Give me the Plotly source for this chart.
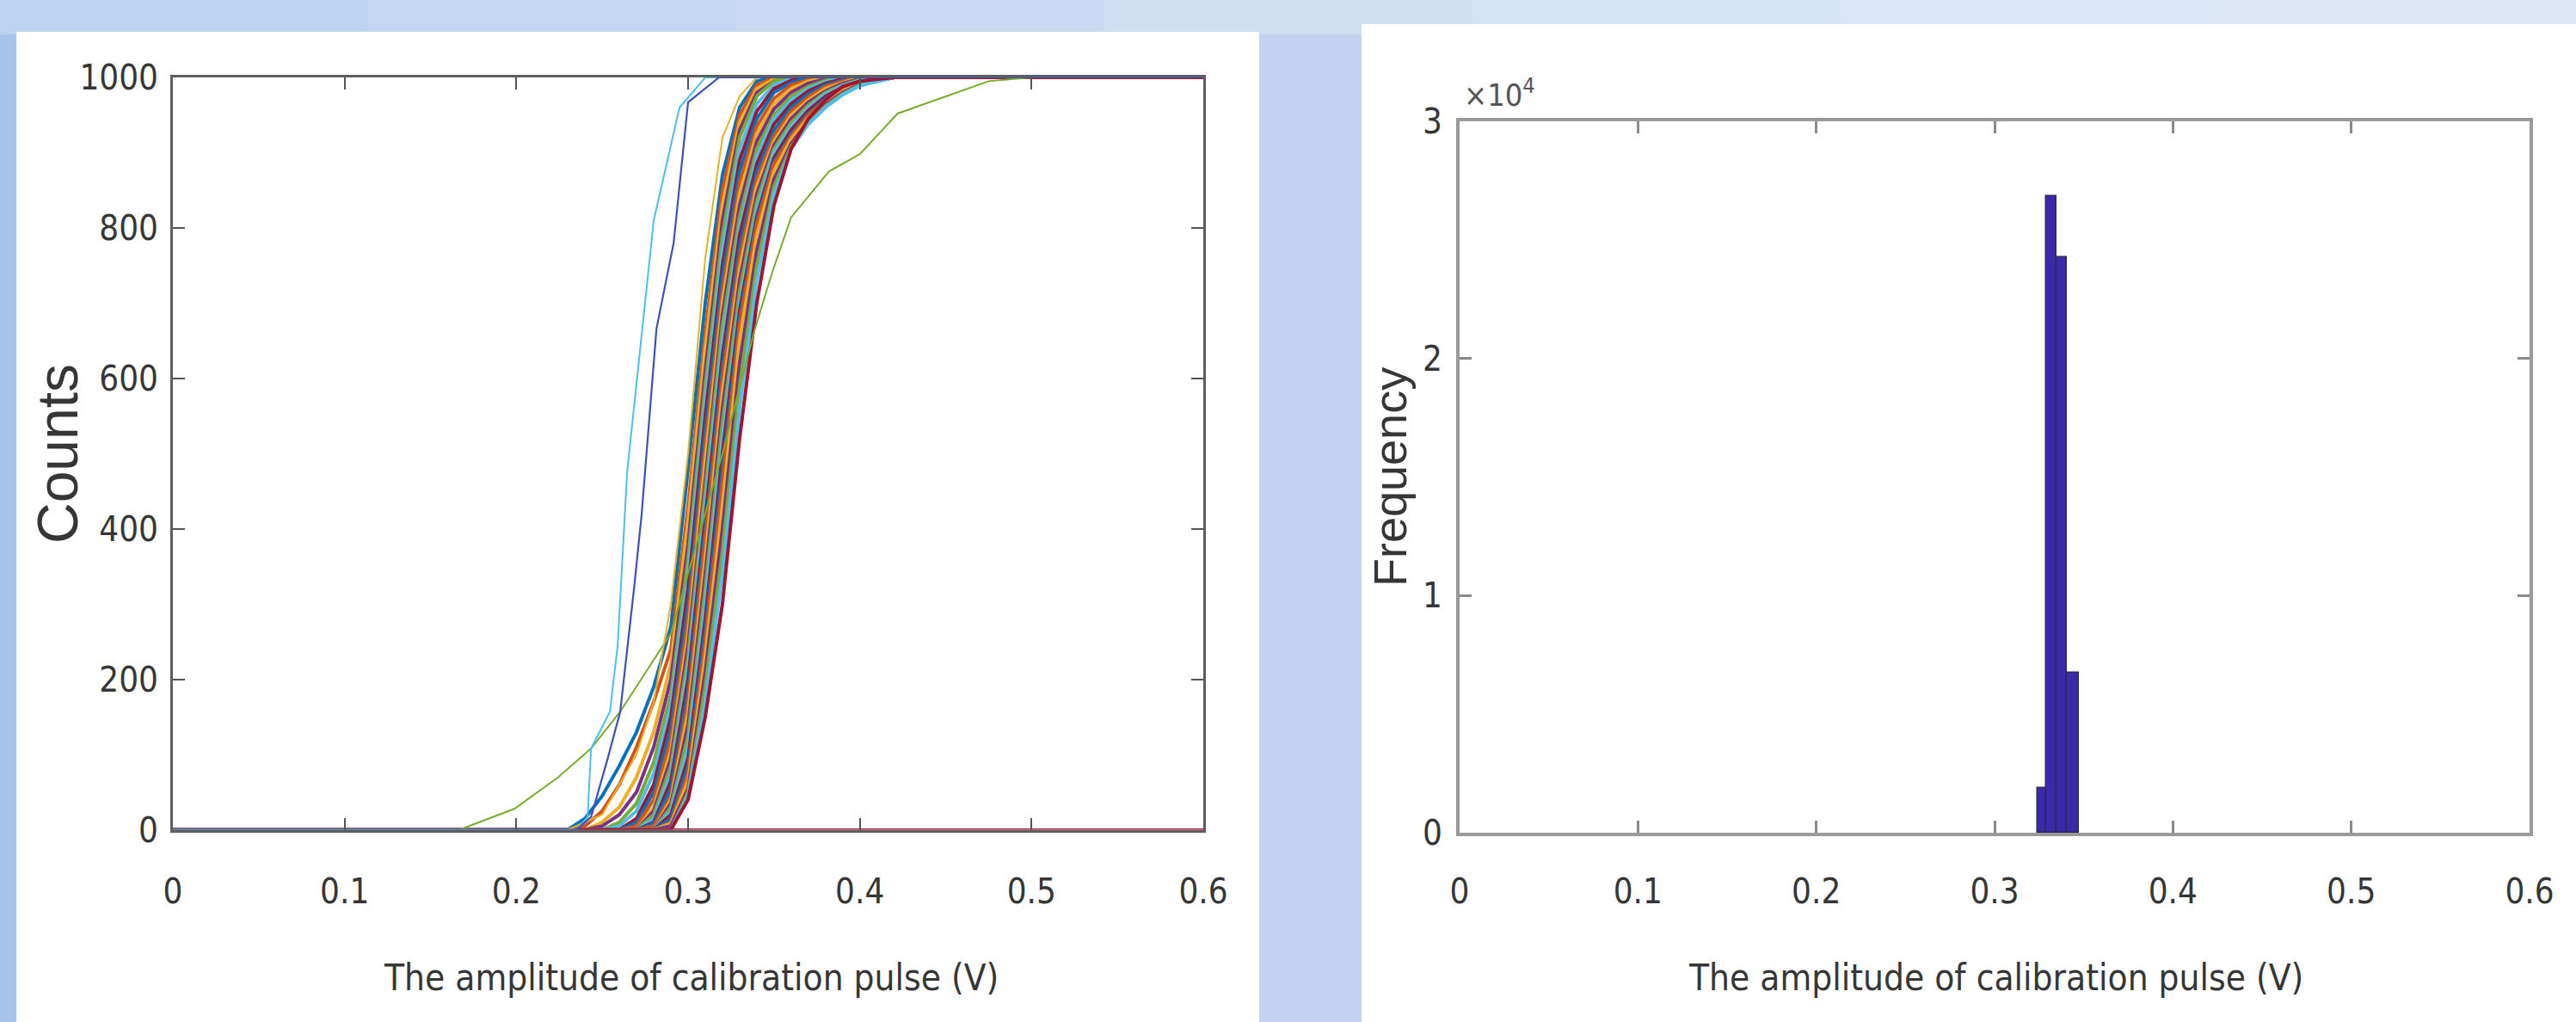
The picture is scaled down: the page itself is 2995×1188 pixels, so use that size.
import plotly.graph_objects as go

# ---------------- data: left panel (S-curves) ----------------
XG = [0, 0.23, 0.24, 0.25, 0.26, 0.27, 0.28, 0.29, 0.30, 0.31, 0.32, 0.33,
      0.34, 0.35, 0.36, 0.37, 0.38, 0.39, 0.40, 0.42, 0.6]

BUNDLE = [
    [0, 0, 15, 45, 85, 130, 190, 270, 480, 700, 870, 960, 995, 1000, 1000, 1000, 1000, 1000, 1000, 1000, 1000],
    [0, 0, 5, 25, 60, 110, 170, 240, 430, 660, 850, 950, 990, 1000, 1000, 1000, 1000, 1000, 1000, 1000, 1000],
    [0, 0, 0, 10, 30, 70, 130, 220, 410, 640, 830, 940, 985, 998, 1000, 1000, 1000, 1000, 1000, 1000, 1000],
    [0, 0, 0, 5, 20, 50, 110, 200, 380, 610, 810, 930, 980, 995, 1000, 1000, 1000, 1000, 1000, 1000, 1000],
    [0, 0, 0, 0, 10, 35, 90, 180, 360, 590, 790, 920, 975, 995, 1000, 1000, 1000, 1000, 1000, 1000, 1000],
    [0, 0, 0, 0, 5, 25, 75, 165, 340, 570, 770, 905, 965, 990, 998, 1000, 1000, 1000, 1000, 1000, 1000],
    [0, 0, 0, 0, 0, 15, 60, 150, 320, 550, 750, 890, 955, 985, 996, 1000, 1000, 1000, 1000, 1000, 1000],
    [0, 0, 0, 0, 0, 10, 50, 135, 300, 530, 735, 875, 945, 980, 993, 1000, 1000, 1000, 1000, 1000, 1000],
    [0, 0, 0, 0, 0, 5, 40, 120, 280, 510, 715, 860, 935, 972, 990, 997, 1000, 1000, 1000, 1000, 1000],
    [0, 0, 0, 0, 0, 0, 30, 105, 260, 490, 700, 845, 925, 965, 985, 995, 1000, 1000, 1000, 1000, 1000],
    [0, 0, 0, 0, 0, 0, 25, 95, 245, 470, 685, 830, 915, 958, 980, 992, 998, 1000, 1000, 1000, 1000],
    [0, 0, 0, 0, 0, 0, 20, 85, 230, 450, 670, 815, 905, 950, 975, 988, 996, 1000, 1000, 1000, 1000],
    [0, 0, 0, 0, 0, 0, 15, 75, 215, 430, 650, 800, 895, 945, 970, 985, 994, 1000, 1000, 1000, 1000],
    [0, 0, 0, 0, 0, 0, 10, 65, 200, 410, 630, 790, 885, 938, 965, 982, 992, 998, 1000, 1000, 1000],
    [0, 0, 0, 0, 0, 0, 8, 55, 185, 395, 615, 775, 875, 930, 960, 978, 990, 996, 1000, 1000, 1000],
    [0, 0, 0, 0, 0, 0, 5, 45, 170, 380, 600, 760, 865, 922, 955, 974, 988, 995, 1000, 1000, 1000],
    [0, 0, 0, 0, 0, 0, 0, 40, 155, 360, 580, 745, 855, 915, 950, 970, 985, 993, 1000, 1000, 1000],
    [0, 0, 0, 0, 0, 0, 0, 35, 140, 340, 560, 730, 845, 910, 945, 967, 982, 992, 998, 1000, 1000],
    [0, 0, 0, 0, 0, 0, 0, 30, 125, 320, 540, 715, 835, 905, 940, 963, 980, 990, 997, 1000, 1000],
    [0, 0, 0, 0, 0, 0, 0, 25, 110, 300, 520, 700, 825, 900, 935, 960, 978, 989, 996, 1000, 1000],
    [0, 0, 0, 0, 0, 0, 0, 20, 95, 280, 500, 690, 815, 893, 930, 956, 975, 987, 995, 1000, 1000],
    [0, 0, 0, 0, 0, 0, 0, 15, 85, 265, 480, 680, 810, 888, 925, 952, 972, 985, 994, 1000, 1000],
    [0, 0, 0, 0, 0, 0, 0, 10, 75, 250, 460, 670, 805, 885, 922, 950, 970, 984, 993, 1000, 1000],
    [0, 0, 0, 0, 0, 0, 0, 8, 65, 230, 430, 650, 790, 875, 918, 946, 967, 982, 992, 1000, 1000],
    [0, 0, 0, 0, 0, 0, 0, 5, 55, 210, 400, 620, 770, 865, 912, 942, 964, 980, 991, 1000, 1000],
    [0, 0, 0, 0, 0, 0, 0, 0, 50, 190, 370, 590, 750, 855, 908, 940, 962, 978, 990, 1000, 1000],
    [0, 0, 0, 0, 0, 0, 0, 0, 45, 170, 340, 560, 730, 845, 905, 938, 960, 977, 989, 1000, 1000],
    [0, 0, 0, 0, 0, 0, 0, 0, 40, 150, 300, 520, 700, 830, 905, 945, 970, 988, 995, 1000, 1000],
]

LIGHTBLUE_X = [0, 0.235, 0.2415, 0.2435, 0.2545, 0.259, 0.2645, 0.28, 0.295, 0.31, 0.6]
LIGHTBLUE_Y = [0, 0, 17, 108, 157, 245, 475, 810, 960, 1000, 1000]

DARKBLUE_X = [0, 0.235, 0.2435, 0.253, 0.2605, 0.2686, 0.273, 0.2816, 0.2916, 0.300, 0.318, 0.6]
DARKBLUE_Y = [0, 0, 17, 93, 157, 322, 420, 666, 780, 967, 1000, 1000]

YELLOW_X = [0, 0.23, 0.25, 0.26, 0.27, 0.28, 0.29, 0.30, 0.31, 0.32, 0.33, 0.34, 0.6]
YELLOW_Y = [0, 0, 20, 60, 100, 170, 300, 500, 760, 920, 975, 1000, 1000]

OLIVE_X = [0, 0.167, 0.199, 0.2245, 0.2435, 0.2605, 0.29, 0.31, 0.32, 0.339,
           0.349, 0.36, 0.382, 0.40, 0.422, 0.475, 0.5, 0.6]
OLIVE_Y = [0, 0, 28, 70, 108, 157, 261, 420, 500, 666, 741, 814, 875, 898, 952, 995, 1000, 1000]

DEAD_X = [0, 0.6]
DEAD_Y = [0, 0]

# ---------------- data: right panel (histogram) ----------------
BIN_EDGES = [0.324, 0.329, 0.3345, 0.3406, 0.3474]
COUNTS = [1870, 26840, 24280, 6760]
STRIP_X = [0.059, 0.347]
STRIP_Y = [-230, -230]

LEFT_XTICKS = [0, 0.1, 0.2, 0.3, 0.4, 0.5, 0.6]
LEFT_XTICKTEXT = ["0", "0.1", "0.2", "0.3", "0.4", "0.5", "0.6"]
LEFT_YTICKS = [0, 200, 400, 600, 800, 1000]
LEFT_YTICKTEXT = ["0", "200", "400", "600", "800", "1000"]
RIGHT_YTICKS = [0, 10000, 20000, 30000]
RIGHT_YTICKTEXT = ["0", "1", "2", "3"]

MATLAB = ["#0072BD", "#D95319", "#EDB120", "#7E2F8E", "#77AC30", "#4DBEEE", "#A2142F"]

W, H = 2995, 1188
NARROW = "Liberation Sans Narrow, Arial Narrow, DejaVu Sans Condensed, sans-serif"
REG = "Liberation Sans, Arial, DejaVu Sans, sans-serif"
TXT = "#363636"

def px(x):
    return x / W

def py(y):
    return 1 - y / H

fig = go.Figure()

fig.add_trace(go.Scatter(x=DEAD_X, y=DEAD_Y, mode="lines",
                         line=dict(color="#A2142F", width=3),
                         xaxis="x", yaxis="y", showlegend=False))
for i, ys in enumerate(BUNDLE):
    fig.add_trace(go.Scatter(x=XG, y=ys, mode="lines",
                             line=dict(color=MATLAB[i % 7], width=4),
                             xaxis="x", yaxis="y", showlegend=False))
for xs, ys, col, w in [
    (OLIVE_X, OLIVE_Y, "#77AC30", 2),
    (YELLOW_X, YELLOW_Y, "#EDB120", 2),
    (LIGHTBLUE_X, LIGHTBLUE_Y, "#4DBEEE", 2),
    (DARKBLUE_X, DARKBLUE_Y, "#3d52b5", 2.2),
]:
    fig.add_trace(go.Scatter(x=xs, y=ys, mode="lines", line=dict(color=col, width=w),
                             xaxis="x", yaxis="y", showlegend=False))

centers = [(a + b) / 2 for a, b in zip(BIN_EDGES[:-1], BIN_EDGES[1:])]
widths = [b - a for a, b in zip(BIN_EDGES[:-1], BIN_EDGES[1:])]
fig.add_trace(go.Bar(x=centers, y=COUNTS, width=widths,
                     marker=dict(color="#3b29a8", line=dict(color="#2b2b55", width=1.5)),
                     xaxis="x2", yaxis="y2", showlegend=False))
fig.add_trace(go.Scatter(x=STRIP_X, y=STRIP_Y, mode="lines", cliponaxis=False,
                         line=dict(color="#cfcfcf", width=6),
                         xaxis="x2", yaxis="y2", showlegend=False))

# background shapes
shapes = [
    dict(type="rect", xref="paper", yref="paper", x0=0, x1=px(19), y0=0, y1=1,
         fillcolor="#a7c4ea", line_width=0, layer="below"),
    dict(type="rect", xref="paper", yref="paper", x0=px(1464), x1=px(1583), y0=0, y1=py(40),
         fillcolor="#c3d2ee", line_width=0, layer="below"),
]
top_cols = ["#bcd3ef", "#c3d7f1", "#c9dbf2", "#cfdff3", "#d5e3f4", "#dae6f5", "#dfe9f6"]
for k, c in enumerate(top_cols):
    shapes.append(dict(type="rect", xref="paper", yref="paper",
                       x0=k / len(top_cols), x1=(k + 1) / len(top_cols), y0=py(40), y1=1,
                       fillcolor=c, line_width=0, layer="below"))
shapes += [
    dict(type="rect", xref="paper", yref="paper", x0=px(19), x1=px(1464), y0=0, y1=py(37),
         fillcolor="white", line_width=0, layer="below"),
    dict(type="rect", xref="paper", yref="paper", x0=px(1583), x1=1, y0=0, y1=py(28),
         fillcolor="white", line_width=0, layer="below"),
]

tickfont = dict(family=NARROW, size=40, color=TXT)

left_common = dict(showline=True, linecolor="#5e5e5e", linewidth=3, mirror="allticks",
                   ticks="inside", ticklen=14, tickwidth=2, tickcolor="#555",
                   showgrid=False, zeroline=False, tickfont=tickfont, automargin=False)
right_common = dict(showline=True, linecolor="#9a9a9a", linewidth=4, mirror="allticks",
                    ticks="inside", ticklen=14, tickwidth=3, tickcolor="#8a8a8a",
                    showgrid=False, zeroline=False, tickfont=tickfont, automargin=False)

fig.update_layout(
    width=W, height=H, autosize=False,
    margin=dict(l=0, r=0, t=0, b=0, pad=0),
    paper_bgcolor="#c8d9f1", plot_bgcolor="white",
    bargap=0,
    shapes=shapes,
    xaxis=dict(domain=[px(201), px(1399)], range=[0, 0.6], anchor="y",
               tickvals=LEFT_XTICKS, ticktext=LEFT_XTICKTEXT, ticklabelstandoff=34, **left_common),
    yaxis=dict(domain=[py(964.5), py(90)], range=[0, 1000], anchor="x",
               tickvals=LEFT_YTICKS, ticktext=LEFT_YTICKTEXT, ticklabelstandoff=6, **left_common),
    xaxis2=dict(domain=[px(1697), px(2941)], range=[0, 0.6], anchor="y2",
                tickvals=LEFT_XTICKS, ticktext=LEFT_XTICKTEXT, ticklabelstandoff=30, **right_common),
    yaxis2=dict(domain=[py(968), py(141)], range=[0, 30000], anchor="x2",
                tickvals=RIGHT_YTICKS, ticktext=RIGHT_YTICKTEXT, ticklabelstandoff=8, **right_common),
    annotations=[
        dict(text="Counts", x=px(67), y=py(528), xref="paper", yref="paper",
             xanchor="center", yanchor="middle",
             textangle=-90, showarrow=False, font=dict(family=REG, size=66, color=TXT)),
        dict(text="Frequency", x=px(1616), y=py(555), xref="paper", yref="paper",
             xanchor="center", yanchor="middle",
             textangle=-90, showarrow=False, font=dict(family=REG, size=54, color=TXT)),
        dict(text="The amplitude of calibration pulse (V)", x=px(803), y=py(1136),
             xref="paper", yref="paper", showarrow=False, xanchor="center", yanchor="middle",
             font=dict(family=NARROW, size=42, color=TXT)),
        dict(text="The amplitude of calibration pulse (V)", x=px(2320), y=py(1136),
             xref="paper", yref="paper", showarrow=False, xanchor="center", yanchor="middle",
             font=dict(family=NARROW, size=42, color=TXT)),
        dict(text="×10<sup>4</sup>", x=px(1700), y=py(108), xref="paper", yref="paper",
             xanchor="left", yanchor="middle", showarrow=False,
             font=dict(family=NARROW, size=36, color="#555")),
    ],
)

fig.write_html("out.html")
